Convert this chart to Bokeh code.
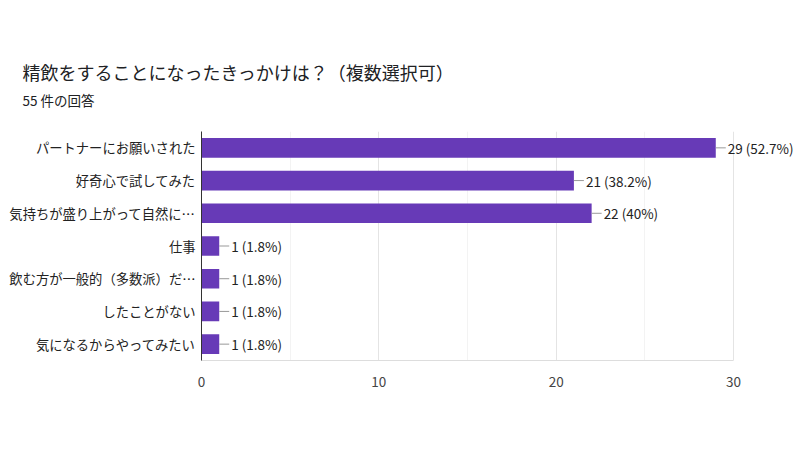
from bokeh.plotting import figure
from bokeh.models import FactorRange, Range1d, Title, FixedTicker, ColumnDataSource, LabelSet
from bokeh.core.properties import value
from bokeh.embed import file_html
from bokeh.resources import INLINE

title_text = "精飲をすることになったきっかけは？（複数選択可）"
subtitle_text = "55 件の回答"
categories = [
    "パートナーにお願いされた",
    "好奇心で試してみた",
    "気持ちが盛り上がって自然に…",
    "仕事",
    "飲む方が一般的（多数派）だ…",
    "したことがない",
    "気になるからやってみたい",
]
counts = [29, 21, 22, 1, 1, 1, 1]
percents = ["52.7%", "38.2%", "40%", "1.8%", "1.8%", "1.8%", "1.8%"]
x_ticks = [0, 10, 20, 30]
x_max = 30

FONT = "Noto Sans CJK JP"

labels = [f"{c} ({p})" for c, p in zip(counts, percents)]
src = ColumnDataSource(dict(cat=categories, val=counts, lab=labels))

# frame runs from x=201 to the window edge; the 0..30 axis covers 201..733
x_end = x_max * (800 - 201) / (733 - 201)

p = figure(
    width=800, height=449,
    y_range=FactorRange(factors=list(reversed(categories))),
    x_range=Range1d(0, x_end),
    output_backend="svg", toolbar_location=None,
    min_border_left=201, min_border_right=0,
    min_border_top=131, min_border_bottom=89,
)
p.outline_line_color = None

p.hbar(y="cat", right="val", left=0, height=0.6, source=src,
       fill_color="#673ab7", line_color=None)
p.ray(x="val", y="cat", length=10, length_units="screen", angle=0,
      source=src, line_color="#999999", line_width=1)
p.add_layout(LabelSet(x="val", y="cat", text="lab", source=src, x_offset=12,
                      text_baseline="middle", text_align="left",
                      text_font_size="13.5px", text_color="#222222",
                      text_font=value(FONT)))

# axes
p.yaxis.axis_line_color = "#333333"
p.yaxis.major_tick_line_color = None
p.yaxis.minor_tick_line_color = None
p.yaxis.major_label_text_font = FONT
p.yaxis.major_label_text_font_size = "13.3px"
p.yaxis.major_label_text_color = "#222222"
p.yaxis.major_label_standoff = 0

p.xaxis.ticker = FixedTicker(ticks=x_ticks, minor_ticks=[5, 15, 25])
p.xaxis.bounds = (0, x_max)
p.xaxis.axis_line_color = "#dddddd"
p.xaxis.major_tick_line_color = None
p.xaxis.minor_tick_line_color = None
p.xaxis.major_label_text_font = FONT
p.xaxis.major_label_text_font_size = "13.5px"
p.xaxis.major_label_text_color = "#444444"
p.xaxis.major_label_standoff = 10

p.ygrid.grid_line_color = None
p.xgrid.grid_line_color = "#e4e4e4"
p.xgrid.minor_grid_line_color = "#f3f3f3"

p.add_layout(Title(text=subtitle_text, text_font=FONT, text_font_size="13.5px",
                   text_font_style="normal", text_color="#202124",
                   offset=-179, standoff=43), "above")
p.add_layout(Title(text=title_text, text_font=FONT, text_font_size="18px",
                   text_font_style="normal", text_color="#202124",
                   offset=-179, standoff=-36), "above")

open("out.html", "w").write(file_html(p, INLINE))
